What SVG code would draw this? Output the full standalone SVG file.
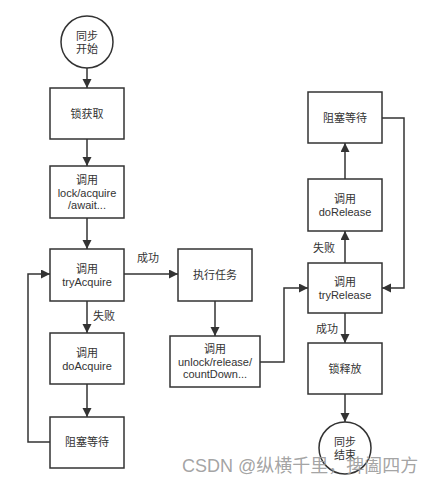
<svg xmlns="http://www.w3.org/2000/svg" width="448" height="489" viewBox="0 0 448 489">
<style>
.box{fill:#fff;stroke:#333;stroke-width:1.5}
.t{font-family:"Liberation Sans","Noto Sans CJK SC",sans-serif;font-size:11px;fill:#333;text-anchor:middle}
.lbl{font-family:"Liberation Sans","Noto Sans CJK SC",sans-serif;font-size:11px;fill:#333;text-anchor:middle}
.c{fill:none;stroke:#333;stroke-width:1.5}
</style>
<defs>
<marker id="ah" markerWidth="10" markerHeight="10" refX="9" refY="4.5" orient="auto" markerUnits="userSpaceOnUse">
<path d="M0,0 L9,4.5 L0,9 Z" fill="#333"/>
</marker>
</defs>
<rect width="448" height="489" fill="#fff"/>
<g id="connectors">
<path class="c" d="M87,68 V88" marker-end="url(#ah)"/>
<path class="c" d="M87,139 V166" marker-end="url(#ah)"/>
<path class="c" d="M87,218 V249" marker-end="url(#ah)"/>
<path class="c" d="M87,301 V333" marker-end="url(#ah)"/>
<path class="c" d="M87,384 V417" marker-end="url(#ah)"/>
<path class="c" d="M50,442 H28 V274 H50" marker-end="url(#ah)"/>
<path class="c" d="M124,274 H178" marker-end="url(#ah)"/>
<path class="c" d="M215,301 V336" marker-end="url(#ah)"/>
<path class="c" d="M260,362 H284 V288 H308" marker-end="url(#ah)"/>
<path class="c" d="M345,263 V231" marker-end="url(#ah)"/>
<path class="c" d="M345,179 V143" marker-end="url(#ah)"/>
<path class="c" d="M382,118 H404 V288 H382" marker-end="url(#ah)"/>
<path class="c" d="M345,313 V343" marker-end="url(#ah)"/>
<path class="c" d="M345,394 V422" marker-end="url(#ah)"/>
<text class="lbl" x="148" y="262">成功</text>
<text class="lbl" x="104" y="320">失败</text>
<text class="lbl" x="324" y="252">失败</text>
<text class="lbl" x="327" y="333">成功</text>
</g>
<g id="start">
<circle class="box" cx="87" cy="42" r="26"/>
<text class="t" x="87" y="40">同步</text>
<text class="t" x="87" y="53">开始</text>
</g>
<g id="lockAcquire">
<rect class="box" x="50" y="88" width="74" height="51"/>
<text class="t" x="87" y="118">锁获取</text>
</g>
<g id="callLock">
<rect class="box" x="50" y="166" width="74" height="52"/>
<text class="t" x="87" y="184">调用</text>
<text class="t" x="87" y="197">lock/acquire</text>
<text class="t" x="87" y="209">/await...</text>
</g>
<g id="tryAcquire">
<rect class="box" x="50" y="249" width="74" height="52"/>
<text class="t" x="87" y="273">调用</text>
<text class="t" x="87" y="286">tryAcquire</text>
</g>
<g id="doAcquire">
<rect class="box" x="50" y="333" width="74" height="51"/>
<text class="t" x="87" y="357">调用</text>
<text class="t" x="87" y="370">doAcquire</text>
</g>
<g id="blockLeft">
<rect class="box" x="50" y="417" width="74" height="51"/>
<text class="t" x="87" y="446">阻塞等待</text>
</g>
<g id="execTask">
<rect class="box" x="178" y="249" width="74" height="52"/>
<text class="t" x="215" y="279">执行任务</text>
</g>
<g id="callUnlock">
<rect class="box" x="170" y="336" width="90" height="51"/>
<text class="t" x="215" y="353">调用</text>
<text class="t" x="215" y="366">unlock/release/</text>
<text class="t" x="215" y="378">countDown...</text>
</g>
<g id="blockRight">
<rect class="box" x="308" y="92" width="74" height="51"/>
<text class="t" x="345" y="122">阻塞等待</text>
</g>
<g id="doRelease">
<rect class="box" x="308" y="179" width="74" height="52"/>
<text class="t" x="345" y="203">调用</text>
<text class="t" x="345" y="216">doRelease</text>
</g>
<g id="tryRelease">
<rect class="box" x="308" y="263" width="74" height="50"/>
<text class="t" x="345" y="286">调用</text>
<text class="t" x="345" y="299">tryRelease</text>
</g>
<g id="lockRelease">
<rect class="box" x="308" y="343" width="74" height="51"/>
<text class="t" x="345" y="373">锁释放</text>
</g>
<g id="end">
<circle class="box" cx="345" cy="448" r="26"/>
<text class="t" x="345" y="446">同步</text>
<text class="t" x="345" y="459">结束</text>
</g>
<text x="182" y="472" font-family="Liberation Sans,'Noto Sans CJK SC',sans-serif" font-size="18" fill="#999" fill-opacity="0.9">CSDN @纵横千里，捭阖四方</text>
</svg>
